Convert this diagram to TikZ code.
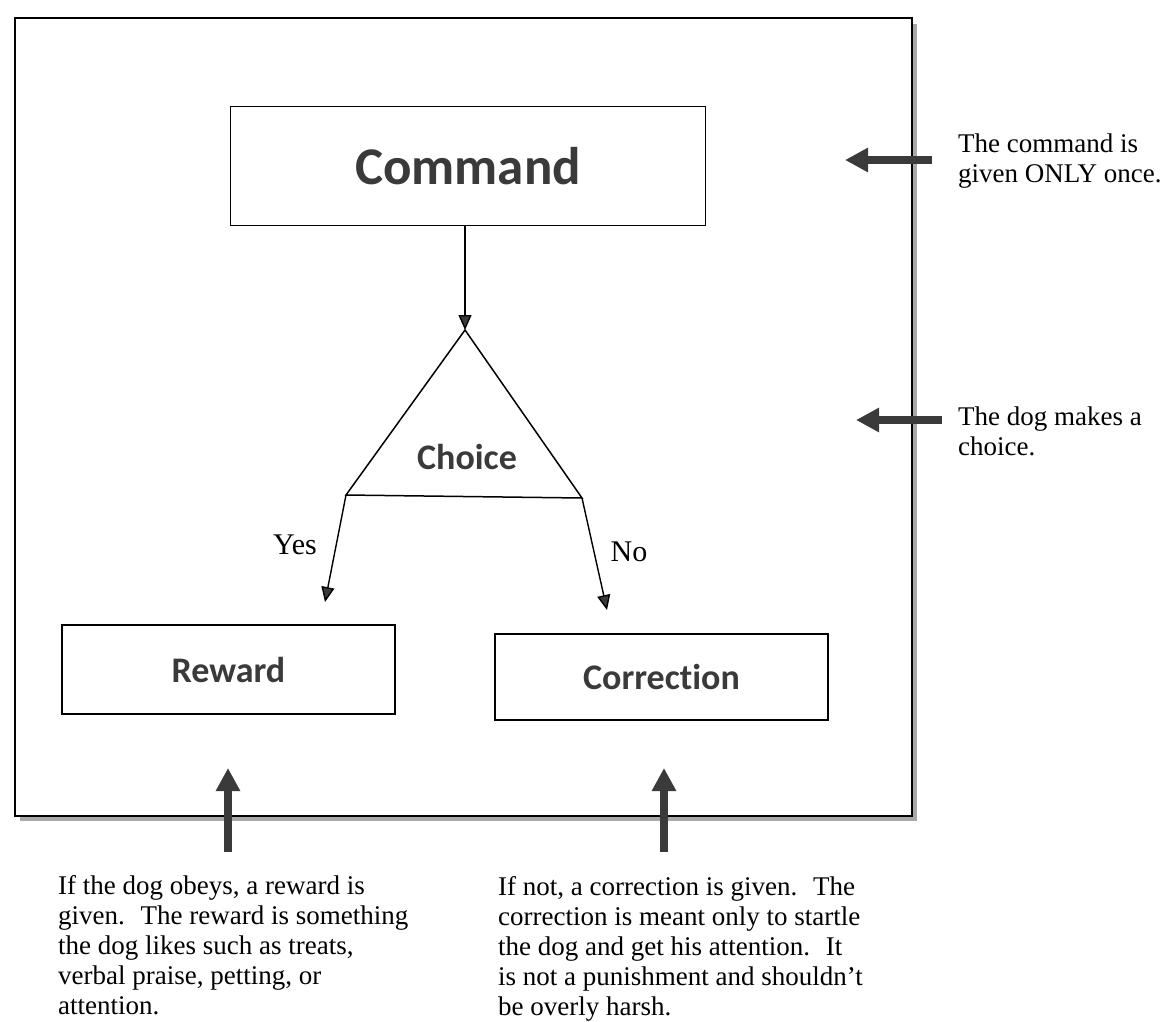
\documentclass[tikz,border=0pt]{standalone}
\usepackage{fontspec}
\setmainfont{Liberation Serif}
\newfontfamily\calib[Ligatures=NoCommon]{Carlito}
\usetikzlibrary{arrows.meta}
\definecolor{ink}{HTML}{3A3A3A}
\definecolor{shadowgray}{HTML}{A8A8A8}
\tikzset{
  box/.style={draw=black, line width=1.8pt, inner sep=0pt, text=ink,
    font=\calib\bfseries\fontsize{36}{40}\selectfont},
  flow/.style={draw=black, line width=1.4pt, -{Triangle[width=13pt,length=15pt,fill=ink]}},
  pointer/.style={draw=ink, line width=7.5pt, -{Triangle[width=23pt,length=23pt]}},
  note/.style={inner sep=0pt, align=left, text=black, font=\fontsize{27}{30}\selectfont},
  answer/.style={inner sep=0pt, text=black, font=\fontsize{30}{34}\selectfont},
}
\begin{document}
\begin{tikzpicture}[x=1pt, y=-1pt]
\useasboundingbox (0,0) rectangle (1170,1021);
\fill[white] (0,0) rectangle (1170,1021);

% outer frame with shadow
\draw[draw=shadowgray, line width=4pt] (915,24) -- (915,819) -- (20,819);
\draw[black, line width=1.8pt] (15,18) rectangle (912,816);

% boxes
\node[box, minimum width=475pt, minimum height=119pt,
      font=\calib\bfseries\fontsize{53}{60}\selectfont] (cmd) at (468,166) {Command};
\node[box, minimum width=333pt, minimum height=89pt] (reward) at (228.5,669.5) {Reward};
\node[box, minimum width=333pt, minimum height=86pt] (corr) at (661.5,677) {Correction};

% triangle
\coordinate (tA) at (465,330);
\coordinate (tL) at (346,495);
\coordinate (tR) at (582,498);
\draw[black, line width=1.5pt, line join=miter] (tA) -- (tL) -- (tR) -- cycle;
\node[inner sep=0pt, text=ink, font=\calib\bfseries\fontsize{36}{40}\selectfont] (choice) at (467,457) {Choice};

% flow arrows
\draw[flow] (cmd.south -| tA) -- (tA);
\coordinate (yesEnd) at (325,602);
\coordinate (noEnd) at (607,610);
\draw[flow] (tL) -- (yesEnd);
\draw[flow] (tR) -- (noEnd);
\node[answer] (yes) at (295,545) {Yes};
\node[answer] (no) at (629,552) {No};

% side pointers
\coordinate (p1s) at (932,160);
\coordinate (p1e) at (845,160);
\coordinate (p2s) at (942,420);
\coordinate (p2e) at (856,420);
\draw[pointer] (p1s) -- (p1e);
\draw[pointer] (p2s) -- (p2e);
\node[note, anchor=north west] (n1) at (958,134) {The command is\\given ONLY once.};
\node[note, anchor=north west] (n2) at (958,407) {The dog makes a\\choice.};

% bottom pointers
\coordinate (p3s) at (228,852);
\coordinate (p3e) at (228,768);
\coordinate (p4s) at (664,852);
\coordinate (p4e) at (664,768);
\draw[pointer] (p3s) -- (p3e);
\draw[pointer] (p4s) -- (p4e);
\node[note, anchor=north west] (n3) at (58,875) {If the dog obeys, a reward is\\given.~ The reward is something\\the dog likes such as treats,\\verbal praise, petting, or\\attention.};
\node[note, anchor=north west] (n4) at (498,876) {If not, a correction is given.~ The\\correction is meant only to startle\\the dog and get his attention.~ It\\is not a punishment and shouldn’t\\be overly harsh.};
\end{tikzpicture}
\end{document}
